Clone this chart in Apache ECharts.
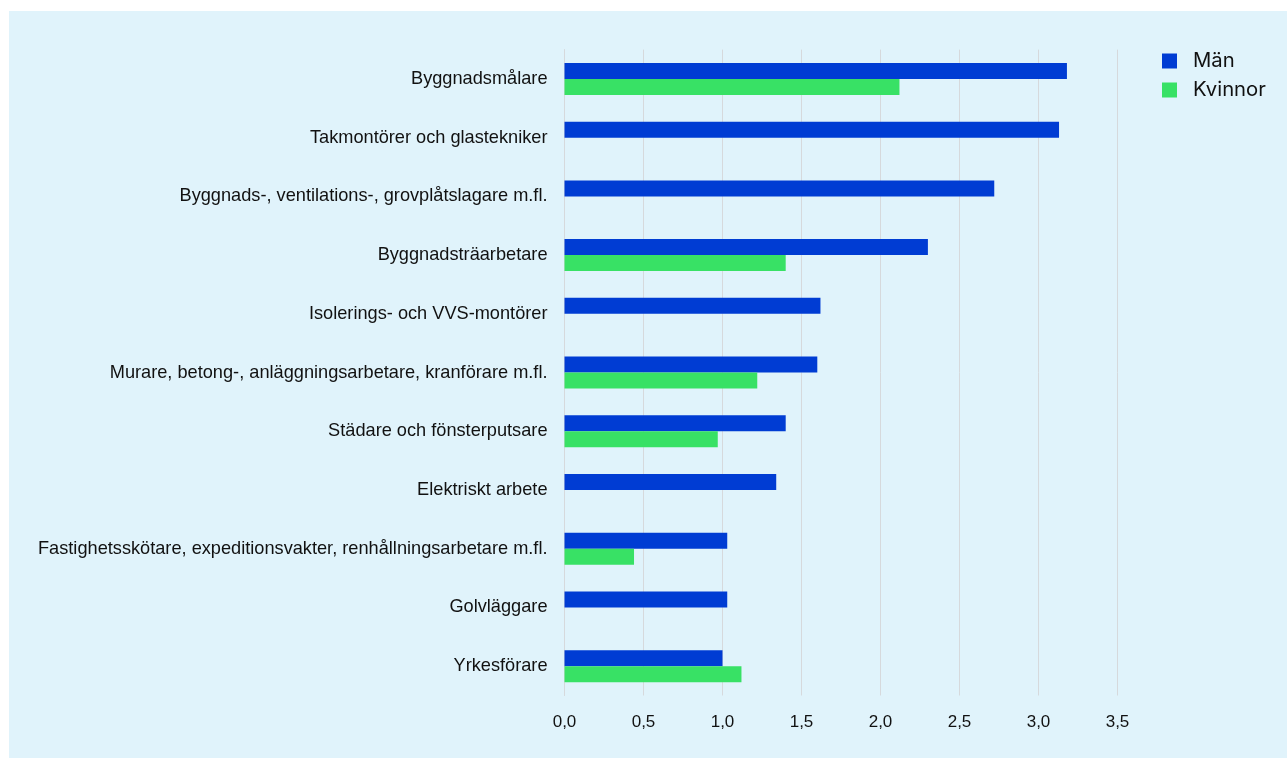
<!DOCTYPE html>
<html>
<head>
<meta charset="utf-8">
<script src="https://cdn.jsdelivr.net/npm/echarts@6/dist/echarts.min.js"></script>
<style>
html,body{margin:0;padding:0;background:#ffffff;}
#chart{position:absolute;left:9px;top:11px;width:1278px;height:747px;background:#e0f3fb;}
</style>
</head>
<body>
<div id="chart"></div>
<script>
const categories = [
  "Byggnadsmålare",
  "Takmontörer och glastekniker",
  "Byggnads-, ventilations-, grovplåtslagare m.fl.",
  "Byggnadsträarbetare",
  "Isolerings- och VVS-montörer",
  "Murare, betong-, anläggningsarbetare, kranförare m.fl.",
  "Städare och fönsterputsare",
  "Elektriskt arbete",
  "Fastighetsskötare, expeditionsvakter, renhållningsarbetare m.fl.",
  "Golvläggare",
  "Yrkesförare"
];
const man = [3.18, 3.13, 2.72, 2.30, 1.62, 1.60, 1.40, 1.34, 1.03, 1.03, 1.00];
const kvinnor = [2.12, null, null, 1.40, null, 1.22, 0.97, null, 0.44, null, 1.12];
const seriesNames = ["Män", "Kvinnor"];
const xTicks = [0, 0.5, 1, 1.5, 2, 2.5, 3, 3.5];

const chart = echarts.init(document.getElementById('chart'));
chart.setOption({
  backgroundColor: '#e0f3fb',
  animation: false,
  grid: {left: 555.5, right: 169.5, top: 38.6, bottom: 62.5, containLabel: false},
  legend: {
    orient: 'vertical',
    left: 1153, top: 40, padding: 0,
    itemWidth: 15, itemHeight: 15, itemGap: 9,
    icon: 'rect',
    textStyle: {fontFamily: 'Inter', fontSize: 20.3, color: '#111', lineHeight: 20, padding: [0,0,0,11]},
    data: seriesNames
  },
  xAxis: {
    type: 'value', min: xTicks[0], max: xTicks[xTicks.length-1], interval: 0.5,
    axisLine: {show: false}, axisTick: {show: false},
    splitLine: {show: true, lineStyle: {color: '#d6d9dc', width: 1}},
    axisLabel: {
      fontFamily: 'Liberation Sans', fontSize: 17, color: '#111', margin: 18,
      formatter: v => v.toFixed(1).replace('.', ',')
    }
  },
  yAxis: {
    type: 'category', data: categories, inverse: true,
    axisLine: {show: true, lineStyle: {color: '#d6d9dc'}},
    axisTick: {show: false},
    axisLabel: {fontFamily: 'Liberation Sans', fontSize: 18.2, color: '#111', margin: 17}
  },
  series: [
    {name: seriesNames[0], type: 'bar', data: man, barWidth: 16, barGap: '0%',
     itemStyle: {color: '#003cd3'}},
    {name: seriesNames[1], type: 'bar', data: kvinnor, barWidth: 16, barGap: '0%',
     itemStyle: {color: '#38e165'}}
  ]
});
</script>
</body>
</html>
